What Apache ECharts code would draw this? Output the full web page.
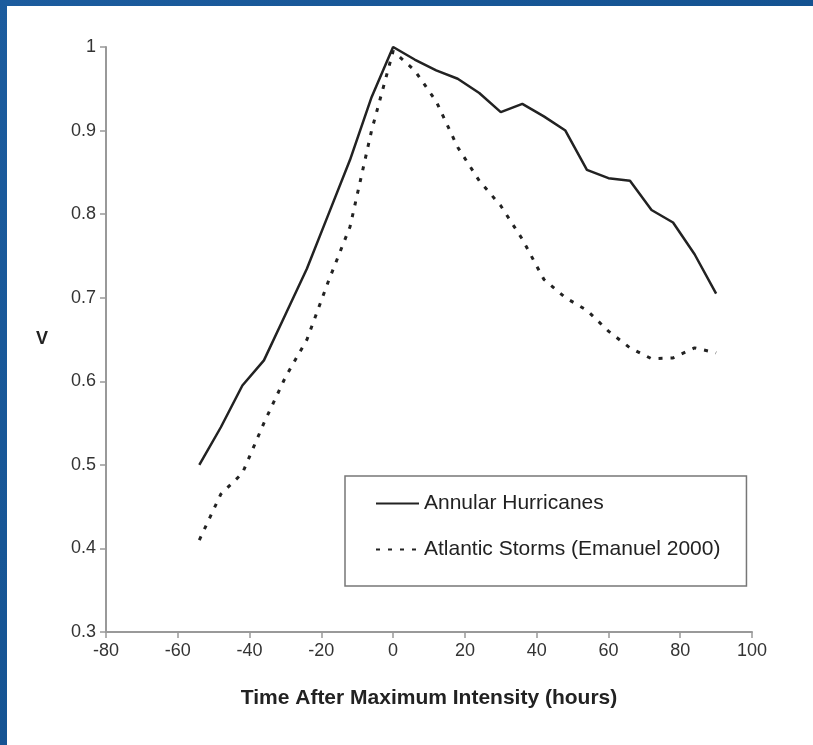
<!DOCTYPE html>
<html>
<head>
<meta charset="utf-8">
<title>Annular Hurricanes</title>
<script src="https://cdn.jsdelivr.net/npm/echarts@6/dist/echarts.min.js"></script>
<style>
  html, body { margin: 0; padding: 0; }
  #main { width: 813px; height: 745px; }
</style>
</head>
<body>
<div id="main"></div>
<script>
// hours after maximum intensity
var hours = [-54, -48, -42, -36, -30, -24, -18, -12, -6, 0, 6, 12, 18, 24, 30, 36, 42, 48, 54, 60, 66, 72, 78, 84, 90];
// normalised intensity V
var annular = [0.50, 0.545, 0.595, 0.625, 0.68, 0.735, 0.80, 0.865, 0.94, 1.0, 0.985, 0.972, 0.962, 0.945, 0.922, 0.932, 0.917, 0.90, 0.853, 0.843, 0.84, 0.805, 0.79, 0.752, 0.705];
var atlantic = [0.41, 0.465, 0.49, 0.55, 0.605, 0.65, 0.72, 0.785, 0.90, 0.995, 0.972, 0.935, 0.88, 0.84, 0.81, 0.77, 0.722, 0.70, 0.685, 0.66, 0.64, 0.627, 0.628, 0.64, 0.634];

var seriesNames = ['Annular Hurricanes', 'Atlantic Storms (Emanuel 2000)'];
var xTitle = 'Time After Maximum Intensity (hours)';
var yTitle = 'V';

function pairs(ys) {
    return hours.map(function (h, i) { return [h, ys[i]]; });
}

var font = 'Liberation Sans, Arial, sans-serif';
var myChart = echarts.init(document.getElementById('main'));

myChart.setOption({
    animation: false,
    backgroundColor: new echarts.graphic.LinearGradient(0, 0, 1, 1, [
        {offset: 0, color: '#1c5c9e'},
        {offset: 1, color: '#0d4a86'}
    ]),
    graphic: [{
        type: 'rect',
        z: -10,
        shape: {x: 7, y: 6, width: 806, height: 739},
        style: {fill: '#ffffff'}
    }],
    grid: {
        left: 106,
        right: 61,
        top: 47,
        bottom: 113
    },
    legend: {
        orient: 'vertical',
        left: 345,
        top: 476,
        padding: [17, 26, 26, 30],
        itemGap: 25,
        itemWidth: 43,
        itemHeight: 14,
        borderColor: '#777',
        borderWidth: 1.5,
        backgroundColor: '#fff',
        itemStyle: {opacity: 0},
        textStyle: {fontFamily: font, fontSize: 21, color: '#222', lineHeight: 20},
        data: seriesNames
    },
    xAxis: {
        type: 'value',
        min: -80,
        max: 100,
        interval: 20,
        name: xTitle,
        nameLocation: 'middle',
        nameGap: 56,
        nameTextStyle: {fontFamily: font, fontSize: 21, fontWeight: 'bold', color: '#222'},
        axisLine: {lineStyle: {color: '#999', width: 2}},
        axisTick: {length: 6, lineStyle: {color: '#999', width: 1.5}},
        axisLabel: {fontFamily: font, fontSize: 18, color: '#333', margin: 10},
        splitLine: {show: false}
    },
    yAxis: {
        type: 'value',
        min: 0.3,
        max: 1,
        interval: 0.1,
        name: yTitle,
        nameLocation: 'middle',
        nameRotate: 0,
        nameGap: 58,
        nameTextStyle: {fontFamily: font, fontSize: 18, fontWeight: 'bold', color: '#222'},
        axisLine: {show: true, onZero: false, lineStyle: {color: '#999', width: 2}},
        axisTick: {show: true, length: 6, lineStyle: {color: '#999', width: 1.5}},
        axisLabel: {
            fontFamily: font, fontSize: 18, color: '#333', margin: 10,
            formatter: function (v) { return v === 1 ? '1' : v.toFixed(1); }
        },
        splitLine: {show: false}
    },
    series: [
        {
            name: seriesNames[0],
            type: 'line',
            symbol: 'none',
            data: pairs(annular),
            itemStyle: {color: '#222'},
            lineStyle: {color: '#222', width: 2.5}
        },
        {
            name: seriesNames[1],
            type: 'line',
            symbol: 'none',
            data: pairs(atlantic),
            itemStyle: {color: '#222'},
            lineStyle: {color: '#222', width: 3, type: [4, 8]}
        }
    ]
});
</script>
</body>
</html>
